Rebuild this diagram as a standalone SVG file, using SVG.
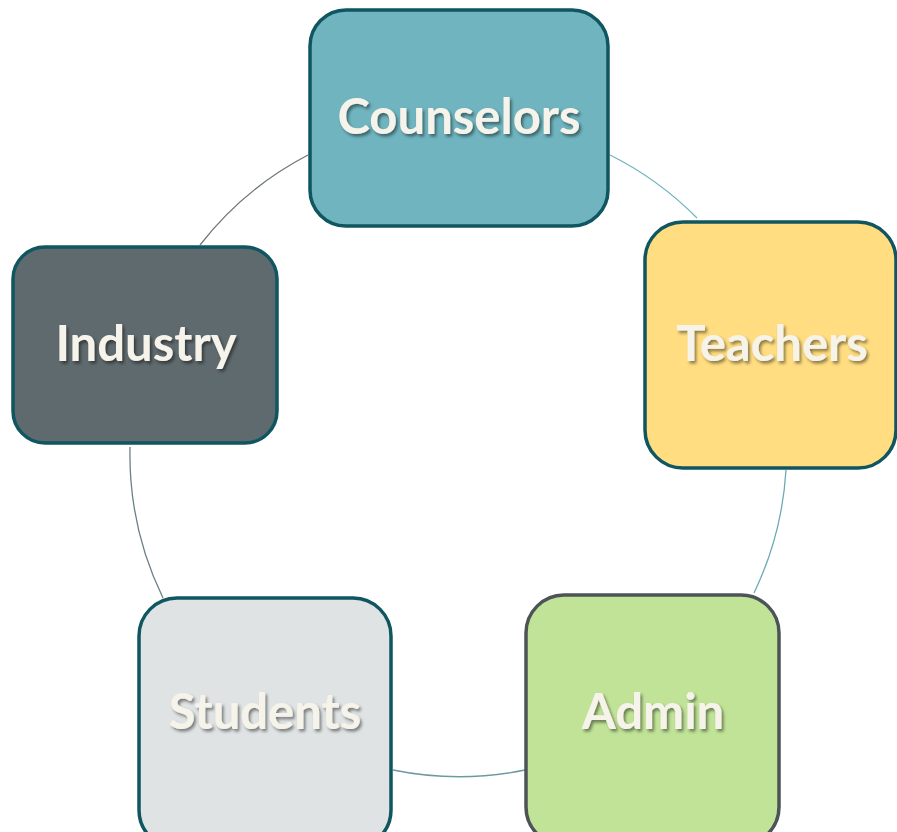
<svg xmlns="http://www.w3.org/2000/svg" width="897" height="832" viewBox="0 0 897 832">
<defs>
<filter id="ts" x="-10%" y="-30%" width="120%" height="160%">
<feDropShadow dx="2" dy="2.5" stdDeviation="1.5" flood-color="#000" flood-opacity="0.45"/>
</filter>
</defs>
<style>
.node{stroke-width:3.5}
.lbl{font-family:Lato,"Open Sans",sans-serif;font-weight:bold;font-size:49px;fill:#f6f3ea;text-anchor:middle;filter:url(#ts)}
.arc{fill:none;stroke-width:1.3}
</style>
<rect width="897" height="832" fill="#fff"/>
<g id="connectors">
<path class="arc" stroke="#6f7677" d="M308,155 A329,329 0 0 0 200,245"/>
<path class="arc" stroke="#72b6c0" d="M610,155 A329,329 0 0 1 697,218"/>
<path class="arc" stroke="#6eaab6" d="M786,470 A329,329 0 0 1 754,593"/>
<path class="arc" stroke="#6d9aa2" d="M525,770 A329,329 0 0 1 393,770"/>
<path class="arc" stroke="#6a8088" d="M163,598 A329,329 0 0 1 130,447"/>
</g>
<g id="counselors">
<rect class="node" x="310" y="10" width="298" height="216" rx="36" fill="#6fb4bf" stroke="#0f5660"/>
<text class="lbl" x="459" y="134">Counselors</text>
</g>
<g id="teachers">
<rect class="node" x="645" y="222" width="251" height="246" rx="38" fill="#ffdd80" stroke="#0f5660"/>
<text class="lbl" x="772" y="361">Teachers</text>
</g>
<g id="admin">
<rect class="node" x="526" y="595" width="253" height="250" rx="38" fill="#c0e397" stroke="#4c5457"/>
<text class="lbl" x="653" y="729">Admin</text>
</g>
<g id="students">
<rect class="node" x="139" y="598" width="252" height="250" rx="38" fill="#dfe3e3" stroke="#0f5660"/>
<text class="lbl" x="265" y="729">Students</text>
</g>
<g id="industry">
<rect class="node" x="13" y="247" width="264" height="196" rx="32" fill="#5f6a6e" stroke="#0f5660"/>
<text class="lbl" x="146" y="361">Industry</text>
</g>
</svg>
